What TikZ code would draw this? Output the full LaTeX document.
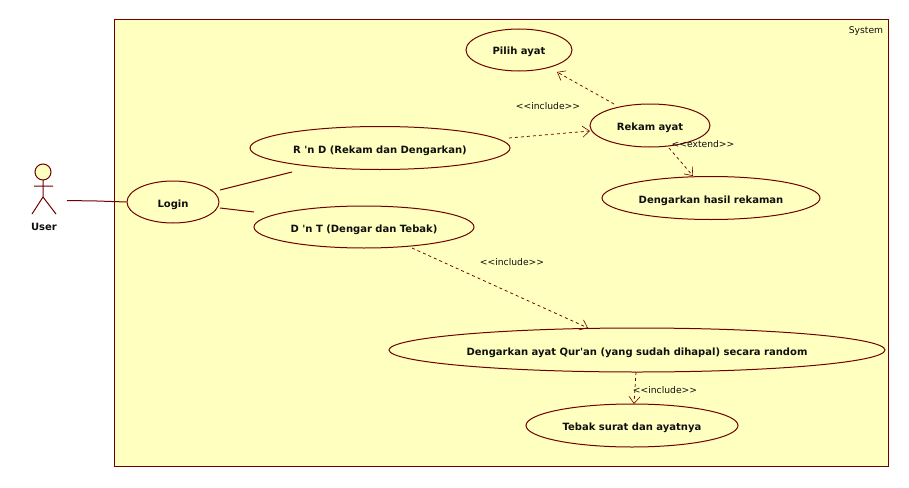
\documentclass[tikz,border=0pt]{standalone}
\usepackage{fontspec}
\setmainfont{DejaVu Sans}[Ligatures=TeXOff]
\usetikzlibrary{arrows.meta,shapes.geometric}
\definecolor{umlfill}{RGB}{255,255,192}
\definecolor{umlline}{RGB}{112,0,0}
\definecolor{umltext}{RGB}{15,15,15}
\tikzset{
  usecase/.style={draw=umlline,fill=umlfill,line width=1pt,ellipse,inner sep=0pt,text=umltext,text height=10.5pt,text depth=0.5pt,font=\fontsize{10}{11}\selectfont\bfseries},
  uctext/.style={font=\fontsize{10}{11}\selectfont\bfseries,text=umltext},
  assoc/.style={draw=umlline,line width=1pt},
  dep/.style={draw=umlline,line width=0.75pt,dash pattern=on 3pt off 3pt,-{Straight Barb[length=7pt,width=11pt,line width=0.6pt]}},
  stereo/.style={font=\fontsize{9.2}{11}\selectfont,text=umltext,inner sep=0pt},
  free/.style={inner sep=0pt,outer sep=0pt}
}
\begin{document}
\begin{tikzpicture}[x=1pt,y=-1pt]
\useasboundingbox (0,0) rectangle (909,487);
\node[free,draw=umlline,fill=umlfill,line width=1pt,minimum width=774pt,minimum height=446pt,anchor=north west] (system) at (114,20) {};
\node[stereo] (systemlabel) at (866,31) {System};

\node[usecase,minimum width=106pt,minimum height=42pt] (pilih) at (519,50) {Pilih ayat};
\node[usecase,minimum width=120pt,minimum height=43pt] (rekam) at (650,125.5) {Rekam ayat};
\node[usecase,minimum width=218pt,minimum height=43pt] (hasil) at (711,198) {Dengarkan hasil rekaman};
\node[usecase,minimum width=92pt,minimum height=42pt] (login) at (173,202) {Login};
\node[usecase,minimum width=260pt,minimum height=43pt] (rnd) at (380,148) {R 'n D (Rekam dan Dengarkan)};
\node[usecase,minimum width=220pt,minimum height=42pt] (dnt) at (364,227) {D 'n T (Dengar dan Tebak)};
\node[usecase,minimum width=496pt,minimum height=44pt] (ayat) at (637,350) {Dengarkan ayat Qur'an (yang sudah dihapal) secara random};
\node[usecase,minimum width=212pt,minimum height=43pt] (tebak) at (632,425.5) {Tebak surat dan ayatnya};

% actor
\draw[assoc,fill=umlfill] (43,172) circle [radius=8];
\coordinate (neck) at (43,180);
\coordinate (hip) at (43,197);
\draw[assoc] (neck) -- (hip) (34,186) -- (53,186) (32,214) -- (hip) -- (56,214);
\node[uctext,inner sep=0pt] (user) at (44,227) {User};

% connector end points
\coordinate (userR) at (67,200.5);
\coordinate (mid) at (97,201);
\coordinate (loginA) at (220,190);
\coordinate (rndA) at (292,172);
\coordinate (loginB) at (220,208);
\coordinate (dntA) at (254,212);
\coordinate (rekamA) at (614,104);
\coordinate (pilihA) at (557,72);
\coordinate (rndB) at (509,138);
\coordinate (rekamB) at (590,131);
\coordinate (rekamC) at (669,148);
\coordinate (hasilA) at (693,176);
\coordinate (dntB) at (412,248);
\coordinate (ayatA) at (588,328);
\coordinate (ayatB) at (636,372);
\coordinate (tebakA) at (634,404);

\draw[assoc] (userR) -- (mid) -- (login.west);
\draw[assoc] (loginA) -- (rndA);
\draw[assoc] (loginB) -- (dntA);
\draw[dep] (rekamA) -- (pilihA);
\draw[dep] (rndB) -- (rekamB);
\draw[dep] (rekamC) -- (hasilA);
\draw[dep] (dntB) -- (ayatA);
\draw[dep] (ayatB) -- (tebakA);

\node[stereo] (inc1) at (548,106) {<{}<include>{}>};
\node[stereo] (ext1) at (703,144) {<{}<extend>{}>};
\node[stereo] (inc2) at (512,262) {<{}<include>{}>};
\node[stereo] (inc3) at (665,390) {<{}<include>{}>};
\end{tikzpicture}
\end{document}
